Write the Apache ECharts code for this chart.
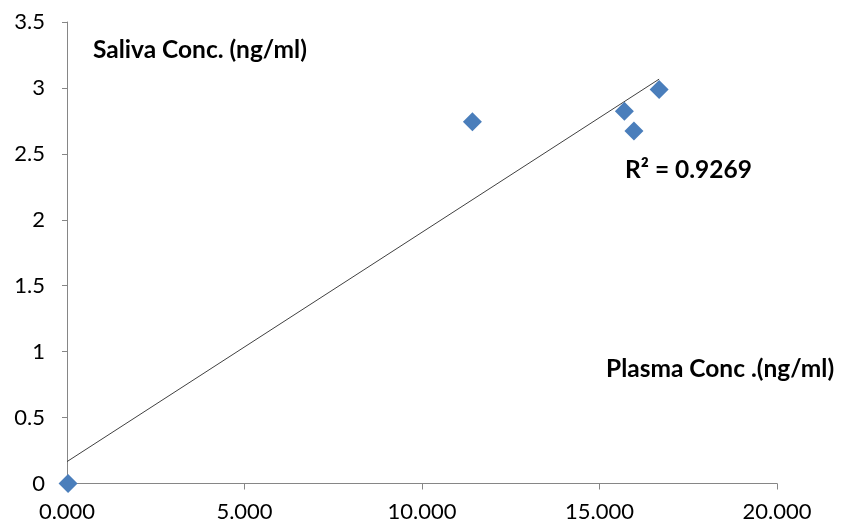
<!DOCTYPE html>
<html><head><meta charset="utf-8">
<script src="https://cdn.jsdelivr.net/npm/echarts@6/dist/echarts.min.js"></script>
<style>html,body{margin:0;padding:0;background:#fff}#c{width:841px;height:526px}</style>
</head><body><div id="c"></div>
<script>
var plasma = [0.03, 11.42, 15.70, 15.97, 16.68];
var saliva = [0.0, 2.743, 2.824, 2.673, 2.989];
var trendX = [0.0, 16.68];
var trendY = [0.166, 3.067];
var xTicks = [0, 5, 10, 15, 20];
var yTicks = [0, 0.5, 1, 1.5, 2, 2.5, 3, 3.5];
var yTitle = 'Saliva Conc. (ng/ml)';
var xTitle = 'Plasma Conc .(ng/ml)';
var r2Label = 'R² = 0.9269';

var chart = echarts.init(document.getElementById('c'));
var font = 'Lato, "Open Sans", sans-serif';
chart.setOption({
  animation: false,
  grid: {left: 67, right: 64, top: 22, bottom: 42.5, containLabel: false},
  xAxis: {
    type: 'value', min: xTicks[0], max: xTicks[xTicks.length-1], interval: 5,
    axisLine: {show: true, lineStyle: {color: '#868686', width: 1}},
    axisTick: {show: true, length: 6, lineStyle: {color: '#868686'}},
    splitLine: {show: false},
    axisLabel: {formatter: function(v){return v.toFixed(3);}, fontSize: 22, color: '#000', fontFamily: font, margin: 17}
  },
  yAxis: {
    type: 'value', min: yTicks[0], max: yTicks[yTicks.length-1], interval: 0.5,
    axisLine: {show: true, lineStyle: {color: '#868686', width: 1}},
    axisTick: {show: true, length: 5, lineStyle: {color: '#868686'}},
    splitLine: {show: false},
    axisLabel: {formatter: function(v){return String(v);}, fontSize: 22, color: '#000', fontFamily: font, margin: 22}
  },
  graphic: [
    {type: 'text', x: 93, y: 50, style: {text: yTitle, font: 'bold 24.5px ' + font, fill: '#000', textVerticalAlign: 'middle'}},
    {type: 'text', x: 606, y: 369, style: {text: xTitle, font: 'bold 24.5px ' + font, fill: '#000', textVerticalAlign: 'middle'}},
    {type: 'text', x: 625, y: 170, style: {text: r2Label, font: 'bold 24.5px ' + font, fill: '#000', textVerticalAlign: 'middle'}}
  ],
  series: [
    {type: 'line', data: trendX.map(function(x,i){return [x, trendY[i]];}), symbol: 'none',
     lineStyle: {color: '#404040', width: 1}, z: 2, silent: true},
    {type: 'scatter', data: plasma.map(function(x,i){return [x, saliva[i]];}), symbol: 'diamond', symbolSize: 19,
     itemStyle: {color: '#4a7ebb', opacity: 1}, z: 3}
  ]
});
</script></body></html>
